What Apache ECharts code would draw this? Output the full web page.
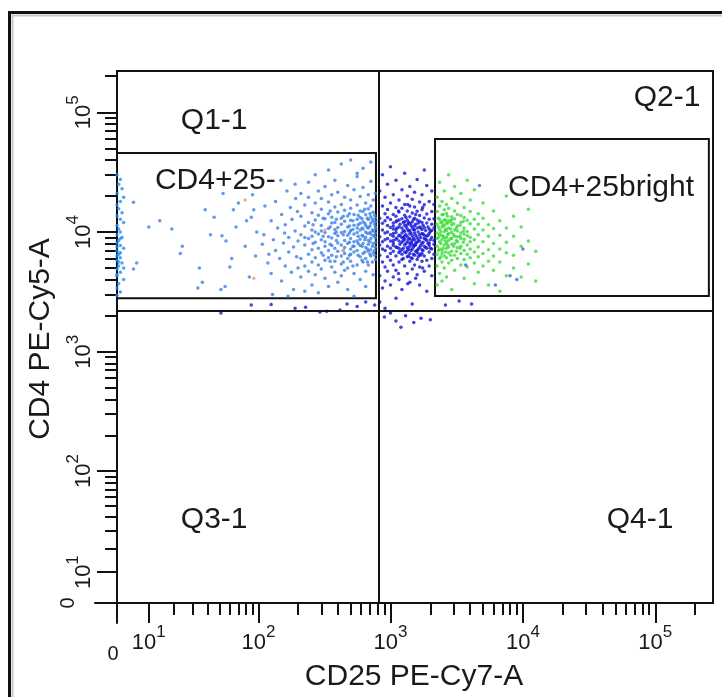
<!DOCTYPE html>
<html>
<head>
<meta charset="utf-8">
<script src="https://cdn.jsdelivr.net/npm/echarts@6/dist/echarts.min.js"></script>
<style>html,body{margin:0;padding:0;background:#fff;}#c{width:722px;height:697px;}</style>
</head>
<body>
<div id="c"></div>
<script>
// ---------------- DATA (fluorescence values) ----------------
const xTitle = 'CD25 PE-Cy7-A';
const yTitle = 'CD4 PE-Cy5-A';
const majorTickValues = [0, 10, 100, 1000, 10000, 100000];
const majorTickExponents = ['0', '1', '2', '3', '4', '5'];
const minorTickValues = [20,30,40,50,60,70,80,90,200,300,400,500,600,700,800,900,
  2000,3000,4000,5000,6000,7000,8000,9000,20000,30000,40000,50000,60000,70000,80000,90000,200000];

// gates  [cd25 low, cd25 high, cd4 low, cd4 high]
const quadrantCD25 = 819;
const quadrantCD4 = 2210;
const gateCD4pos25neg = [0, 777, 2800, 45600];
const gateCD4pos25bright = [2170, 254000, 2920, 59750];

// annotation texts [cd25, cd4, text]
const annotations = [
  [45, 84600, 'Q1-1'], [122600, 131600, 'Q2-1'], [45, 37.6, 'Q3-1'], [76700, 37.6, 'Q4-1'],
  [46, 26700, 'CD4+25-'], [38950, 23300, 'CD4+25bright']
];

// events piled up at CD25 ~ 0
const zeroColumn = [[0,30000],[1,27500],[0.5,25000],[1.5,23000],[0,21000],[2,19500],[1,18000],[0,16800],[0.5,15600],
  [1.5,14500],[0,13600],[1,12800],[2,12000],[0,11300],[0.5,10600],[1,10000],[0,9500],[1.5,9000],[0.5,8500],[0,8100],
  [1,7700],[2,7300],[0,6900],[0.5,6500],[1,6100],[0,5800],[1.5,5500],[0.5,5200],[0,4900],[1,4600],[0,4300],[2,4000],
  [0.5,3700],[0,3400],[1,3150],[0,2950],[1,8800],[0,7500],[1,6700],[0,6300],[0.5,5600],[2,5000],[0,4400]];

// CD4+25- gate, sparse part
const negSparse = [[5,17700],[10,11000],[14,12400],[19,10600],[23,6600],[24,7600],[5,4900],[6,5500],[38,15300],[34,5000],
  [36,3800],[33,3400],[51,3300],[55,3500],[45,13300],[53,21000],[60,5100],[62,6000],[64,15300],[67,11000],[52,9300],
  [56,8400],[79,7600],[81,12400],[88,13300],[92,15300],[97,10000],[28,24000],[72,26000],[85,4200],[42,9500],[70,17500],
  [95,6300],[90,20500],[107,7900],[110,9500],[118,5500],[125,12400],[125,4500],[130,8600],[135,7000],[135,18000],
  [140,10800],[145,6000],[150,14000],[150,3900],[155,8100],[160,11500],[160,5200],[165,22000],[170,9000],[170,6800],
  [175,16000],[178,4600],[180,12800],[185,7500],[185,3300],[190,10200],[190,25000],[195,6200],[198,14800],[200,8400],
  [200,5000],[112,16500],[128,3000],[148,27000],[168,2900],[192,19000],[120,6500],[158,9800]];

// CD4+25- gate, dense part: [cd25, [cd4 values]]
const negDense = [
  [210,[6000,9500,13500,4200,21000]],
  [225,[7800,11200,5200,16800,3200,9000]],
  [240,[8800,6500,12000,19500,4700,26000]],
  [255,[7100,10400,14500,5600,3600,9200]],
  [270,[8200,12600,6100,17500,4400,30000,10000]],
  [285,[9600,7300,13800,5300,22000,3100]],
  [300,[8600,11300,6700,15500,4900,10200,19000]],
  [320,[7600,9900,12900,5800,24000,4100,8300]],
  [340,[10700,7000,14200,6100,3500,17800,9100,33000]],
  [360,[8900,11900,6400,5100,20500,13300,7700]],
  [380,[9700,7300,16200,4600,12000,27000,5700,10500]],
  [400,[8100,10900,6900,14700,3800,21500,9300]],
  [425,[11600,7800,5400,17000,9900,13000,6300,37000,4300]],
  [450,[8500,12300,6600,10100,19500,4800,15200,7400]],
  [475,[9400,6000,13600,8000,24500,11000,5000,3300]],
  [500,[10300,7200,15800,5700,8800,12500,18500,6500,40000]],
  [530,[8300,11400,6800,14000,9600,4500,22500,7600,2900]],
  [560,[9900,7000,12800,5300,16800,10800,8400,29000,31000]],
  [590,[8700,13200,6200,10400,19800,7700,4000,11800,15000]],
  [620,[9200,6600,12100,8000,14800,5600,23500,10600,34000]],
  [650,[10000,7400,13900,6000,9000,17500,4700,11300,3500]],
  [680,[8500,12700,6900,10800,15600,7900,20500,5300]],
  [710,[9600,7100,11900,13400,6300,26500,8800,16500,38500]],
  [740,[10200,8000,12300,6700,14600,9300,4400,18500]],
  [770,[8900,11000,7500,13100,5900,21000,9800]]
];
const negCore = [
  [260,[8000,11500]],[310,[9200,6400,13000]],[350,[7900,11000,5700,15000]],[390,[8500,12800,6200,10000]],
  [440,[9500,7000,13500,5600]],[490,[8200,11200,6400,14200,9800]],[520,[10500,7600,12400,5200]],
  [570,[8000,11500,6400,13800,9200]],[610,[10800,7600,12900,5800,9400]],[640,[8600,11800,6800,15500]],
  [670,[9700,7200,13000,5600,10900]],[700,[8300,11200,6500,14200,9900]],[730,[10400,7600,12800,5600]],
  [760,[9300,7000,11600,13800,6400]],[775,[8200,10600,12200]]
];

// events between the two gates (dark blue)
const midDense = [
  [830,[9100,6400,13000,4300,22000,7800,2600]],
  [870,[8300,11800,5600,16500,7200,3400,10400,30000]],
  [910,[9800,7000,14200,5100,12400,8600,19500,3900,2300]],
  [950,[8800,6200,11300,15400,7600,4700,10000,25000,13200]],
  [1000,[9500,7300,12700,5800,17500,8400,10900,3600,6600,35000]],
  [1050,[8100,10600,6900,14000,5300,9200,20500,11900,4200,7700]],
  [1100,[9900,7500,12200,6300,16000,8700,4800,10500,27000,2800,13500]],
  [1160,[8400,11000,6700,14700,9400,5600,18500,7300,12600,4000]],
  [1220,[9800,7100,12900,8200,5900,15800,10800,22500,6500,3300,9000]],
  [1280,[8700,11400,6800,13800,7800,10100,5200,17000,9300,31000,12200]],
  [1340,[9100,7400,12500,6200,15000,8300,10600,4500,20000,11500,7000]],
  [1400,[8000,10300,6600,13400,9600,5700,11800,16500,7600,24000,3800,8800]],
  [1460,[9300,7200,12100,6000,14400,8500,10900,4900,18800,7900,2500]],
  [1520,[8600,11200,6400,13000,7700,9800,5300,16200,21500,10400]],
  [1590,[9000,7000,12600,5900,10800,8200,14900,4400,27500,6700]],
  [1660,[8400,11000,6500,13700,9500,7400,17800,5100,12300,3600]],
  [1730,[9700,7100,12000,8000,15300,5700,10500,20500,6600]],
  [1800,[8800,10900,6300,13100,7600,4700,16900,9400,33000]],
  [1880,[9200,7300,11900,5800,14100,8500,24500,3200]],
  [1960,[8100,10600,6800,12800,9700,5200,18000,7700]],
  [2050,[9000,7200,11600,6000,14800,4300,10300,22000]],
  [2130,[8500,10800,6500,12900,7900,17000]]
];
const midCore = [
  [1050,[9700,8500,11200]],[1120,[8900,10800,7400,12400]],[1180,[9300,7900,11600,6900]],
  [1250,[10300,8500,7300,12000,6000,9000]],[1310,[9500,8000,11000,6700,13200]],[1370,[8700,10200,7200,12000,6300]],
  [1430,[9800,8200,11300,7000,6100]],[1490,[8900,10500,7500,12700,6500]],[1550,[9400,8100,11600,6900,7800]],
  [1620,[10000,8600,7200,11900,6200]],[1690,[9000,10800,7700,6400]],[1760,[9600,8200,11400,7000]],
  [1840,[8700,10300,7400]],[1920,[9400,8000,11000]],[2000,[8600,10100,7300]],
  [1150,[15000,4500]],[1350,[17000,3700]],[1550,[14000,4100]],[1750,[5000,16000]]
];
// ungated events under the gates (dark blue)
const belowGates = [[88,2450],[125,2480],[190,2300],[293,2150],[330,2180],[470,2500],[560,2380],[650,2600],[51,2100],
  [228,2350],[415,2230],[760,2450],[900,1950],[1100,1800],[1300,2000],[1500,1750],[1700,1900],[1200,1600],[1000,2100],
  [2000,1850],[2600,2450],[4100,2500],[3300,2650]];

// CD4+25bright gate (green)
const brightDense = [
  [2250,[8800,11600,6500,14800,9800,5200,19500,7600,3600]],
  [2350,[9500,7200,12800,6000,16500,10500,8300,4500,26000]],
  [2450,[8600,11000,7000,13900,9300,5600,18000,12200,6600,3900]],
  [2550,[10100,7800,12600,6300,15300,8900,22000,5000,11300]],
  [2650,[9000,11900,7300,14300,6100,10300,17000,8100,4200]],
  [2750,[9700,7500,12400,6700,15800,10800,5500,30000,8500]],
  [2900,[8800,11500,6900,13400,9900,5800,19000,7900,12700,3300]],
  [3050,[10400,8000,12900,6400,15000,9200,4800,24000]],
  [3200,[9100,11200,7400,14000,6000,10200,17500,8300]],
  [3400,[9800,7600,12000,6600,13700,5300,21000,8800]],
  [3600,[8700,10800,7000,13200,5900,16000,9600,4100]],
  [3800,[10100,7800,12500,6500,9300,27000,5100]],
  [4000,[9000,11700,7200,14800,6100,8300,18500]],
  [4300,[8600,10600,6800,12800,5500,22500,3700]],
  [4600,[9500,7500,11600,6200,14200,4600]],
  [5000,[8300,10400,6600,13000,5200,17500]],
  [5500,[9200,7100,11500,5700,3600]],
  [6000,[8000,10700,6300,15000,4800]],
  [6700,[9400,7200,12400,5600,3200]],
  [7500,[8200,10800,6700,4300,20000]],
  [8500,[9200,6400,13500,5000]],
  [9700,[7600,11000,4200]],
  [11000,[8400,5400,15500]],
  [12500,[6900,3900]]
];
const brightCore = [
  [2300,[9000,11000,7000,13000]],[2400,[10000,8000,12000,6200]],[2500,[9200,11500,7300,14000]],
  [2600,[8400,10600,6800,12600]],[2700,[9500,11800,7800,13500]],[2850,[8800,10600,6400,12200]],
  [3000,[9500,11700,7600]],[3150,[8500,10800,6900]],[3350,[9200,11400,7300]],[3550,[8200,10200,12300]]
];
const brightBlueish = [[4700,24500],[10000,7200],[9000,4000],[8000,4300],[6200,3600],[3700,5300]];
const orangeDots = [[79,18500],[92,4100],[440,7000],[320,10400]];

// ---------------- axis transform (biexponential-like display) ----------------
const X_C = 17.2, Y_C = 15.9;
function tx(v) { return Math.asinh(v / X_C) / Math.LN10; }
function ty(v) { return Math.asinh(v / Y_C) / Math.LN10; }
const X_MIN = -0.1662, X_MAX = 4.5015, Y_MIN = -0.1671, Y_MAX = 4.4444;

function pairs(list) { return list.map(p => [tx(p[0]), ty(p[1])]); }
function cols(list) {
  const out = [];
  list.forEach(c => c[1].forEach(y => out.push([tx(c[0]), ty(y)])));
  return out;
}

const FONT = '"Liberation Sans", Arial, sans-serif';
const INK = '#1a1a1a';

function labelFormatter(fx) {
  return function (val) {
    for (let i = 0; i < majorTickValues.length; i++) {
      if (Math.abs(fx(majorTickValues[i]) - val) < 1e-6) {
        const e = majorTickExponents[i];
        if (e === '0') return '{z|0}';
        return '{b|10}{s|' + e + '}';
      }
    }
    return '';
  };
}
const richX = {
  b: { fontSize: 22, lineHeight: 30, verticalAlign: 'bottom', fontFamily: FONT, color: INK },
  s: { fontSize: 17, lineHeight: 30, verticalAlign: 'top', fontFamily: FONT, color: INK },
  z: { fontSize: 20, lineHeight: 30, padding: [31, 8, 0, 0], fontFamily: FONT, color: INK }
};
const richY = {
  b: { fontSize: 22, lineHeight: 30, verticalAlign: 'bottom', fontFamily: FONT, color: INK },
  s: { fontSize: 17, lineHeight: 30, verticalAlign: 'top', fontFamily: FONT, color: INK },
  z: { fontSize: 20, lineHeight: 30, padding: [0, 0, 24, 0], fontFamily: FONT, color: INK }
};

const gridRect = { left: 95, right: 9, top: 71, bottom: 74, containLabel: false, outerBoundsMode: 'none' };
const axisLineStyle = { color: '#111', width: 2 };
const DOT = 3.5;

const option = {
  animation: false,
  backgroundColor: '#fff',
  grid: [
    Object.assign({}, gridRect),
    Object.assign({}, gridRect),
    { left: 117, right: 9, top: 71, bottom: 94, containLabel: false, outerBoundsMode: 'none', show: true, borderColor: '#111', borderWidth: 2, backgroundColor: 'transparent' }
  ],
  xAxis: [
    {
      gridIndex: 0, type: 'value', min: X_MIN, max: X_MAX, position: 'bottom',
      axisLine: { onZero: true, lineStyle: axisLineStyle },
      axisTick: { customValues: majorTickValues.map(tx), length: 20, lineStyle: { color: '#111', width: 2 } },
      axisLabel: { customValues: majorTickValues.map(tx), margin: 1, formatter: labelFormatter(tx), rich: richX },
      splitLine: { show: false },
      name: xTitle, nameLocation: 'middle', nameGap: 39, nameMoveOverlap: false,
      nameTextStyle: { fontSize: 30, fontFamily: FONT, color: INK, padding: [0, 0, 0, 20] }
    },
    {
      gridIndex: 1, type: 'value', min: X_MIN, max: X_MAX, position: 'bottom',
      axisLine: { show: false, onZero: true },
      axisTick: { customValues: minorTickValues.map(tx), length: 12, lineStyle: { color: '#111', width: 2 } },
      axisLabel: { show: false }, splitLine: { show: false }
    },
    { gridIndex: 2, type: 'value', min: 0, max: 1, show: false }
  ],
  yAxis: [
    {
      gridIndex: 0, type: 'value', min: Y_MIN, max: Y_MAX, position: 'left',
      axisLine: { onZero: true, lineStyle: axisLineStyle },
      axisTick: { customValues: majorTickValues.map(ty), length: 20, lineStyle: { color: '#111', width: 2 } },
      axisLabel: { customValues: majorTickValues.map(ty), rotate: 90, margin: 0, formatter: labelFormatter(ty), rich: richY },
      splitLine: { show: false },
      name: yTitle, nameLocation: 'middle', nameGap: 39, nameMoveOverlap: false,
      nameTextStyle: { fontSize: 30, fontFamily: FONT, color: INK, padding: [0, 0, 0, 16] }
    },
    {
      gridIndex: 1, type: 'value', min: Y_MIN, max: Y_MAX, position: 'left',
      axisLine: { show: false, onZero: true },
      axisTick: { customValues: minorTickValues.map(ty), length: 12, lineStyle: { color: '#111', width: 2 } },
      axisLabel: { show: false }, splitLine: { show: false }
    },
    { gridIndex: 2, type: 'value', min: 0, max: 1, show: false }
  ],
  series: [
    { type: 'scatter', xAxisIndex: 0, yAxisIndex: 0, symbolSize: DOT, data: pairs(zeroColumn), itemStyle: { color: '#1f8bff' }, silent: true },
    { type: 'scatter', xAxisIndex: 0, yAxisIndex: 0, symbolSize: DOT, data: pairs(negSparse).concat(cols(negDense), cols(negCore)), itemStyle: { color: '#3a7fe6' }, silent: true },
    { type: 'scatter', xAxisIndex: 0, yAxisIndex: 0, symbolSize: DOT, data: cols(midDense).concat(cols(midCore), pairs(belowGates)), itemStyle: { color: '#1414d6' }, silent: true },
    { type: 'scatter', xAxisIndex: 0, yAxisIndex: 0, symbolSize: DOT, data: cols(brightDense).concat(cols(brightCore)), itemStyle: { color: '#38dc38' }, silent: true },
    { type: 'scatter', xAxisIndex: 0, yAxisIndex: 0, symbolSize: DOT, data: pairs(brightBlueish), itemStyle: { color: '#2f66d8' }, silent: true },
    { type: 'scatter', xAxisIndex: 0, yAxisIndex: 0, symbolSize: DOT, data: pairs(orangeDots), itemStyle: { color: '#f0a060' }, silent: true },
    {
      type: 'scatter', xAxisIndex: 0, yAxisIndex: 0, data: [], silent: true, z: 5,
      markLine: {
        silent: true, symbol: 'none', animation: false, label: { show: false },
        lineStyle: { color: '#111', width: 2, type: 'solid' },
        data: [
          [{ coord: [tx(quadrantCD25), 0] }, { coord: [tx(quadrantCD25), Y_MAX] }],
          [{ coord: [0, ty(quadrantCD4)] }, { coord: [X_MAX, ty(quadrantCD4)] }]
        ]
      },
      markArea: {
        silent: true, label: { show: false },
        itemStyle: { color: 'rgba(0,0,0,0)', borderColor: '#111', borderWidth: 2 },
        data: [
          [{ coord: [tx(gateCD4pos25neg[0]), ty(gateCD4pos25neg[2])] }, { coord: [tx(gateCD4pos25neg[1]), ty(gateCD4pos25neg[3])] }],
          [{ coord: [tx(gateCD4pos25bright[0]), ty(gateCD4pos25bright[2])] }, { coord: [tx(gateCD4pos25bright[1]), ty(gateCD4pos25bright[3])] }]
        ]
      }
    },
    {
      type: 'scatter', xAxisIndex: 0, yAxisIndex: 0, symbolSize: 2, z: 6, silent: true,
      itemStyle: { color: 'rgba(255,255,255,0)' },
      data: annotations.map(a => [tx(a[0]), ty(a[1]), a[2]]),
      label: { show: true, position: 'inside', opacity: 1, formatter: p => p.value[2], fontSize: 30, fontFamily: FONT, color: INK }
    }
  ],
  graphic: [
    { type: 'rect', shape: { x: 12.5, y: 15.5, width: 740, height: 720 }, style: { fill: 'none', stroke: '#c8c8c8', lineWidth: 2 }, silent: true },
    { type: 'rect', shape: { x: 9.5, y: 12.5, width: 740, height: 720 }, style: { fill: 'none', stroke: '#111', lineWidth: 3 }, silent: true }
  ]
};

const chart = echarts.init(document.getElementById('c'), null, { renderer: 'canvas' });
chart.setOption(option);
</script>
</body>
</html>
